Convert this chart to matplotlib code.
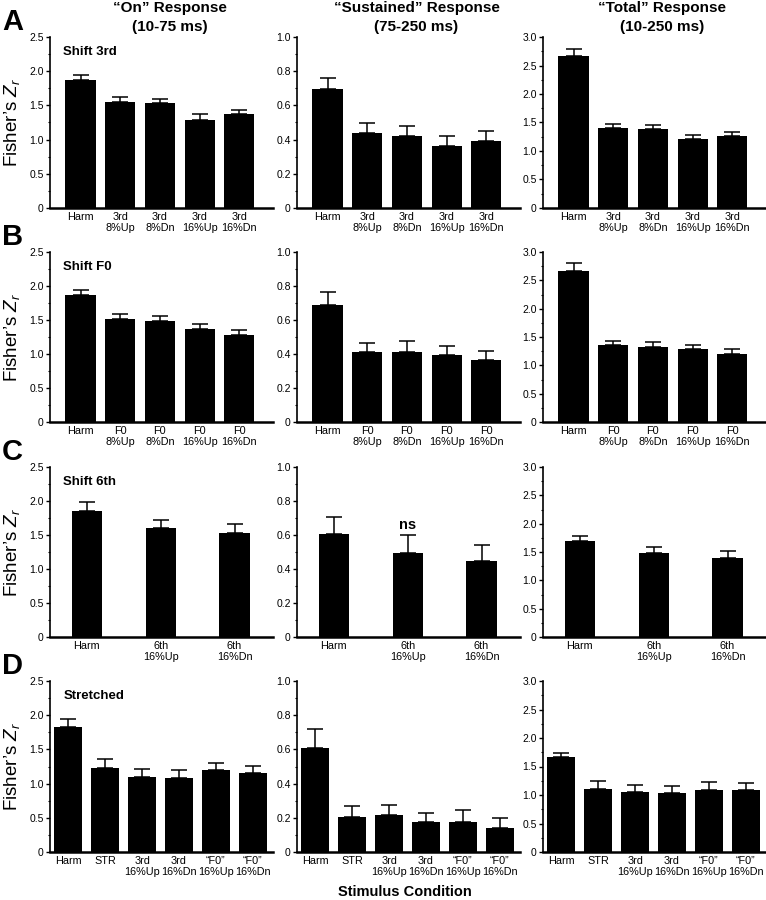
import matplotlib
matplotlib.use("Agg")
import matplotlib.pyplot as plt
from matplotlib.ticker import MultipleLocator, FuncFormatter

plt.rcParams['font.family'] = ['Liberation Sans', 'DejaVu Sans']
plt.rcParams['mathtext.fontset'] = 'custom'
plt.rcParams['mathtext.rm'] = 'Liberation Sans'
plt.rcParams['mathtext.it'] = 'Liberation Sans:italic'

# ---- data (bar means and upper error bar sizes) ----
labels_3rd = ["Harm", "3rd\n8%Up", "3rd\n8%Dn", "3rd\n16%Up", "3rd\n16%Dn"]
labels_f0 = ["Harm", "F0\n8%Up", "F0\n8%Dn", "F0\n16%Up", "F0\n16%Dn"]
labels_6th = ["Harm", "6th\n16%Up", "6th\n16%Dn"]
labels_str = ["Harm", "STR", "3rd\n16%Up", "3rd\n16%Dn", "\u201cF0\u201d\n16%Up", "\u201cF0\u201d\n16%Dn"]

a_on = [1.87, 1.55, 1.53, 1.29, 1.37]
a_on_err = [0.07, 0.08, 0.07, 0.08, 0.07]
a_sus = [0.693, 0.437, 0.421, 0.363, 0.392]
a_sus_err = [0.07, 0.06, 0.057, 0.056, 0.058]
a_tot = [2.67, 1.40, 1.38, 1.21, 1.26]
a_tot_err = [0.12, 0.08, 0.08, 0.075, 0.08]

b_on = [1.87, 1.51, 1.49, 1.37, 1.28]
b_on_err = [0.07, 0.075, 0.075, 0.07, 0.08]
b_sus = [0.688, 0.41, 0.412, 0.394, 0.362]
b_sus_err = [0.076, 0.056, 0.064, 0.056, 0.058]
b_tot = [2.67, 1.36, 1.33, 1.29, 1.20]
b_tot_err = [0.13, 0.075, 0.08, 0.075, 0.08]

c_on = [1.86, 1.60, 1.535]
c_on_err = [0.12, 0.115, 0.12]
c_sus = [0.604, 0.496, 0.445]
c_sus_err = [0.104, 0.102, 0.097]
c_tot = [1.70, 1.48, 1.40]
c_tot_err = [0.09, 0.11, 0.11]

d_on = [1.83, 1.235, 1.09, 1.078, 1.196, 1.16]
d_on_err = [0.115, 0.123, 0.126, 0.118, 0.108, 0.095]
d_sus = [0.61, 0.202, 0.216, 0.175, 0.178, 0.143]
d_sus_err = [0.108, 0.065, 0.06, 0.054, 0.067, 0.057]
d_tot = [1.665, 1.106, 1.06, 1.04, 1.094, 1.082]
d_tot_err = [0.07, 0.134, 0.116, 0.113, 0.13, 0.124]

rows = [
    ("A", "Shift 3rd", labels_3rd, [(a_on, a_on_err), (a_sus, a_sus_err), (a_tot, a_tot_err)]),
    ("B", "Shift F0", labels_f0, [(b_on, b_on_err), (b_sus, b_sus_err), (b_tot, b_tot_err)]),
    ("C", "Shift 6th", labels_6th, [(c_on, c_on_err), (c_sus, c_sus_err), (c_tot, c_tot_err)]),
    ("D", "Stretched", labels_str, [(d_on, d_on_err), (d_sus, d_sus_err), (d_tot, d_tot_err)]),
]

col_titles = ["\u201cOn\u201d Response\n(10-75 ms)",
              "\u201cSustained\u201d Response\n(75-250 ms)",
              "\u201cTotal\u201d Response\n(10-250 ms)"]
ymaxes = [2.5, 1.0, 3.0]
ysteps = [0.5, 0.2, 0.5]

W, H = 766, 900
fig = plt.figure(figsize=(W / 100, H / 100), dpi=100)

col_x = [50, 297, 543]
ax_w = 223
row_y = [(37, 208), (252, 422), (467, 637), (681, 852)]


def fmt(v, pos):
    return "0" if abs(v) < 1e-9 else f"{v:.1f}"


for r, (letter, tag, labels, series) in enumerate(rows):
    top, bot = row_y[r]
    n = len(labels)
    for c in range(3):
        ax = fig.add_axes([col_x[c] / W, 1 - bot / H, ax_w / W, (bot - top) / H])
        vals, errs = series[c]
        x = list(range(n))
        width = 0.41 if n == 3 else 0.76
        ax.bar(x, vals, width=width, color="black", zorder=2)
        ax.errorbar(x, vals, yerr=[[0] * n, errs], fmt="none", ecolor="black",
                    elinewidth=1.1, capsize=5.5, capthick=1.1, zorder=1)
        if n == 5:
            ax.set_xlim(-0.77, 4.85)
        elif n == 3:
            ax.set_xlim(-0.5, 2.52)
        else:
            ax.set_xlim(-0.5, 5.55)
        ax.set_ylim(0, ymaxes[c])
        ax.yaxis.set_major_locator(MultipleLocator(ysteps[c]))
        ax.yaxis.set_minor_locator(MultipleLocator(ysteps[c] / 2))
        ax.yaxis.set_major_formatter(FuncFormatter(fmt))
        ax.spines["top"].set_visible(False)
        ax.spines["right"].set_visible(False)
        ax.spines["left"].set_linewidth(1.2)
        ax.spines["bottom"].set_linewidth(1.8)
        ax.tick_params(axis="y", which="major", length=3, width=1, labelsize=7.5, pad=1.5)
        ax.tick_params(axis="y", which="minor", length=1.5, width=0.8)
        ax.set_xticks(x)
        ax.set_xticklabels(labels, fontsize=7.8, linespacing=1.15)
        ax.tick_params(axis="x", length=0, pad=3)
        if c == 0:
            ax.set_ylabel("Fisher\u2019s $\\mathit{Z}_{r}$", fontsize=13.5, labelpad=5)
            ax.text(0.06, 0.91, tag, transform=ax.transAxes, fontsize=9.5,
                    fontweight="bold", va="center")
        if r == 0:
            fig.text((col_x[c] + ax_w / 2 + 8) / W, 1 - 1 / H, col_titles[c],
                     ha="center", va="top", fontsize=11, fontweight="bold",
                     linespacing=1.45)
        if r == 2 and c == 1:
            ax.text(1, vals[1] + errs[1] + 0.02, "ns", ha="center", va="bottom",
                    fontsize=10.5, fontweight="bold")
    fig.text(2 / W, 1 - (top - 15) / H, letter, fontsize=21, fontweight="bold",
             va="center", ha="left")

fig.text(405 / W, 1 - 892 / H, "Stimulus Condition", ha="center", va="center",
         fontsize=10.5, fontweight="bold")

fig.savefig("out.png", dpi=100)
